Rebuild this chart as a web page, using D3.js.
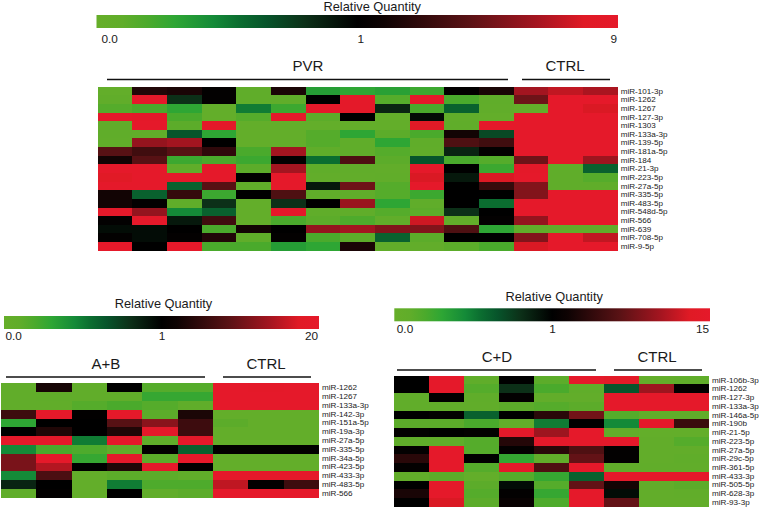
<!DOCTYPE html>
<html>
<head>
<meta charset="utf-8">
<script src="https://cdn.jsdelivr.net/npm/d3@7"></script>
<style>
    html, body { margin: 0; padding: 0; background: #fff; }
    svg { display: block; }
    text { font-family: "Liberation Sans", Arial, sans-serif; fill: #1a1a1a; }
</style>
</head>
<body>
<script>
const svgWidth = 760;
const svgHeight = 508;

// relative quantities, one row per miRNA
const pvrRows = ["miR-101-3p", "miR-1262", "miR-1267", "miR-127-3p", "miR-1303", "miR-133a-3p", "miR-139-5p", "miR-181a-5p", "miR-184", "miR-21-3p", "miR-223-5p", "miR-27a-5p", "miR-335-5p", "miR-483-5p", "miR-548d-5p", "miR-566", "miR-639", "miR-708-5p", "miR-9-5p"];
const pvrValues = [
    [.05, 1.5, 1.4, 1.05, .1, 1.4, .35, .3, .33, .25, 1.03, 1.4, 4.5, 5.5, 4.7],
    [.08, 9, .8, 1.05, .1, .1, 1, 8.5, .15, 9, .2, .1, 3, 9, 9],
    [.15, .2, .3, .05, .5, .25, 9, 8.5, .85, .2, .6, .08, .05, 9, 6.5],
    [9, 8.5, .2, .05, .15, 9, .12, 1, .05, .95, .08, .05, 9, 9, 9],
    [.08, 9, .12, 8.5, .05, .05, .05, .05, .05, 7, .1, 9, 9, 9, 9],
    [.1, .08, .65, .3, .05, .05, .15, .3, .12, .2, 1.3, .7, 9, 9, 9],
    [.08, 4, 4.5, 1, .05, .05, .15, .1, .3, .1, 2.3, 2, 9, 9, 9],
    [2.5, 2, 2.5, 1.7, .2, 4.5, .1, .1, .15, .08, .85, 1.05, 9, 9, 9],
    [1.3, 2.5, .25, .2, .25, 1.05, .55, 2.3, .12, .65, .2, .15, 3, 9, 4.3],
    [9, 9, .1, 9, .12, 4.5, .1, .08, .07, 9, 1, .25, 8.5, .1, .6],
    [7, 9, 9, 9, 1, 9, .07, .07, .08, 6.5, .9, 6.5, 9, .1, .15],
    [9, 9, .6, 2.5, .1, 9, .9, 3, .15, 9, 1, 1.8, 3.5, .1, .1],
    [1.3, .6, 1.8, .25, 1, 2.3, .1, .1, .15, .25, 1, 1, 3.5, 9, 9],
    [1.3, 1.05, .1, .8, .05, .8, 1, 4.2, .3, .1, 1, .55, 9, 9, 9],
    [9, 4, .45, .6, .05, 9, .1, .1, .15, .12, .8, 1, 9, 9, 9],
    [1.05, 9, .9, 2, .05, .2, .12, .18, .08, 6, .07, 1.05, 4, 9, 9],
    [.95, .95, 1, .2, 1.3, 1, 4, 4.5, 3.5, 3.5, 2.3, .3, .08, .08, .08],
    [1.05, .95, 1.05, 1.5, .1, 1.05, .2, .12, .6, .12, 1, 1, 3.5, 9, 5.5],
    [9, 1, 9, .2, .2, .35, .3, 1.4, .08, .07, .12, .2, 6.5, 9, 9]
];

const abRows = ["miR-1262", "miR-1267", "miR-133a-3p", "miR-142-3p", "miR-151a-5p", "miR-19a-3p", "miR-27a-5p", "miR-335-5p", "miR-34a-5p", "miR-423-5p", "miR-433-3p", "miR-483-5p", "miR-566"];
const abValues = [
    [.08, 1.5, .08, 1, .15, .15, 20, 18, 20],
    [.08, .1, .08, .08, .27, .27, 20, 20, 20],
    [.08, .08, .15, .2, .15, .1, 20, 20, 20],
    [2.5, 20, 1.05, 20, .12, 1.6, .05, .05, .05],
    [.3, 1, 1, 3.5, 6, 2.5, .12, .05, .05],
    [1, 1.7, 1, 1.7, 20, 2.5, .05, .05, .05],
    [20, 20, .5, 20, .1, 20, .05, .05, .05],
    [.45, .2, .18, .1, 1.05, .6, 1.05, 1.05, 1.05],
    [5, 20, .27, 20, .12, 20, .05, .05, .05],
    [5, 9, 1, 1.7, 20, 1, .05, .05, .05],
    [.45, 3, .05, .12, .12, .1, 20, 20, 20],
    [.85, 1, .05, .5, .18, .18, 10, 1.05, 2.5],
    [.1, 1.05, .05, 1, .08, .12, 20, 20, 20]
];

const cdRows = ["miR-106b-3p", "miR-1262", "miR-127-3p", "miR-133a-3p", "miR-146a-5p", "miR-190b", "miR-21-5p", "miR-223-5p", "miR-27a-5p", "miR-29c-5p", "miR-361-5p", "miR-433-3p", "miR-505-5p", "miR-628-3p", "miR-93-3p"];
const cdValues = [
    [1, 15, .1, 1, .12, 15, 12, .07, .1],
    [1, 15, .15, .8, .2, .1, .65, 6, 1.05],
    [.08, 1, .1, 1.05, .07, .07, 15, 15, 15],
    [.08, .08, .08, .12, .15, .12, 15, 15, 15],
    [1, 1.05, .6, 1, 1.8, 4, .15, .1, .1],
    [.12, .12, .2, .06, .5, 1, .45, 15, 2.2],
    [1.05, 1, 1.05, 15, 6, 15, .08, .05, .05],
    [.1, .1, .15, 1.7, 15, 15, 15, .07, .15],
    [1.05, 15, .15, 1.05, 1.8, 2.8, 1.05, .07, .07],
    [1.8, 15, 1, .28, .08, 3.5, 1.05, .07, .1],
    [1.05, 15, .15, 15, 2.8, 15, .08, .08, .08],
    [.07, .12, .05, .15, .27, .6, 15, 15, 15],
    [1, 15, .12, .95, .15, 3.5, 1.4, .07, .12],
    [1.5, 15, .15, 1.05, .27, 15, .95, .07, .08],
    [1, 10, .12, 1.2, .18, 15, 3.5, .07, .07]
];

// colour ramp along the legend bar, 0 = left end, 0.5 = black (value 1), 1 = right end
const rampPos = [0, .05, .1, .15, .225, .275, .325, .4, .5, .55, .715, .845, .935, 1];
const rampCol = ["#66ae29", "#60ad2a", "#4aaa2c", "#2ea634", "#148a38", "#0b6d30", "#07552b", "#0c3018", "#000000", "#0e0303", "#5a1215", "#a51520", "#e01a25", "#e5192a"];
const ramp = d3.scaleLinear().domain(rampPos).range(rampCol);

const svg = d3.select("body")
    .append("svg")
    .attr("width", svgWidth)
    .attr("height", svgHeight);

const defs = svg.append("defs");
defs.append("linearGradient")
    .attr("id", "rq")
    .selectAll("stop")
    .data(rampPos)
    .join("stop")
    .attr("offset", d => d)
    .attr("stop-color", d => ramp(d));

function draw_panel(p) {
    const g = svg.append("g");

    // below 1 is linear, above 1 logarithmic
    const low = d3.scaleLinear().domain([0, 1]).range([0, .5]);
    const high = d3.scaleLog().domain([1, p.max]).range([.5, 1]);
    const color = v => ramp(v < 1 ? low(v) : high(v));

    // legend
    g.append("text")
        .text("Relative Quantity")
        .attr("x", (p.barX[0] + p.barX[1]) / 2 + p.titleDx)
        .attr("y", p.titleY)
        .attr("text-anchor", "middle")
        .style("font-size", "12.8px");

    g.append("rect")
        .attr("x", p.barX[0])
        .attr("y", p.barY)
        .attr("width", p.barX[1] - p.barX[0])
        .attr("height", 13)
        .style("fill", "url(#rq)");

    const legendScale = d3.scaleLinear()
        .domain([0, 1, p.max])
        .range([p.barX[0] + p.tickInset, (p.barX[0] + p.barX[1]) / 2 + p.oneDx, p.barX[1] - 1.5]);
    const legendAxis = g.append("g")
        .attr("transform", `translate(0, ${p.barY + 13})`)
        .call(d3.axisBottom(legendScale)
            .tickValues([0, 1, p.max])
            .tickSize(0)
            .tickPadding(p.tickPad)
            .tickFormat(d => d === 0 ? "0.0" : String(d)));
    legendAxis.select(".domain").remove();
    legendAxis.attr("font-family", null);
    legendAxis.selectAll("text")
        .style("font-size", "11.8px")
        .attr("text-anchor", d => d === 0 ? "start" : d === 1 ? "middle" : "end");

    // group brackets
    const groups = g.selectAll(null)
        .data(p.groups)
        .join("g");
    groups.append("line")
        .attr("x1", d => d.x0)
        .attr("x2", d => d.x1)
        .attr("y1", p.lineY)
        .attr("y2", p.lineY)
        .style("stroke", "#111")
        .style("stroke-width", 1.6);
    groups.append("text")
        .text(d => d.name)
        .attr("x", d => d.tx)
        .attr("y", p.lineY - 8.5)
        .attr("text-anchor", "middle")
        .style("font-size", "15px");

    // heat map
    const x = d3.scaleBand()
        .domain(d3.range(p.values[0].length))
        .range(p.gridX);
    const y = d3.scaleBand()
        .domain(p.rows)
        .range(p.gridY);

    const cells = p.values.flatMap((row, i) => row.map((v, j) => ({row: p.rows[i], col: j, v: v})));
    g.append("g")
        .selectAll("rect")
        .data(cells)
        .join("rect")
        .attr("x", d => x(d.col))
        .attr("y", d => y(d.row))
        .attr("width", x.bandwidth())
        .attr("height", y.bandwidth())
        .attr("shape-rendering", "crispEdges")
        .style("fill", d => color(d.v));

    const rowAxis = g.append("g")
        .attr("transform", `translate(${p.gridX[1]}, 0)`)
        .call(d3.axisRight(y).tickSize(0).tickPadding(3));
    rowAxis.select(".domain").remove();
    rowAxis.attr("font-family", null).attr("font-size", null);
    rowAxis.selectAll("text").style("font-size", "8.1px");
}

draw_panel({
    rows: pvrRows, values: pvrValues, max: 9,
    gridX: [97.7, 617.7], gridY: [86.7, 250.7],
    barX: [96.5, 618], barY: 15, titleY: 11, titleDx: 15, oneDx: 3, tickInset: 4.5, tickPad: 7,
    lineY: 79.5,
    groups: [
        {name: "PVR", x0: 107, x1: 508, tx: 308},
        {name: "CTRL", x0: 522, x1: 610, tx: 565}
    ]
});

draw_panel({
    rows: abRows, values: abValues, max: 20,
    gridX: [1, 319], gridY: [383.3, 497.7],
    barX: [4, 319], barY: 316, titleY: 308, titleDx: 2, oneDx: 0, tickInset: 1, tickPad: 3,
    lineY: 377,
    groups: [
        {name: "A+B", x0: 6, x1: 205, tx: 106},
        {name: "CTRL", x0: 223, x1: 311, tx: 266}
    ]
});

draw_panel({
    rows: cdRows, values: cdValues, max: 15,
    gridX: [394.3, 709], gridY: [375.7, 506.7],
    barX: [394.3, 710], barY: 308.3, titleY: 300.5, titleDx: 2, oneDx: 0, tickInset: 2, tickPad: 3,
    lineY: 370,
    groups: [
        {name: "C+D", x0: 397, x1: 596, tx: 497},
        {name: "CTRL", x0: 614, x1: 702, tx: 657}
    ]
});
</script>
</body>
</html>
